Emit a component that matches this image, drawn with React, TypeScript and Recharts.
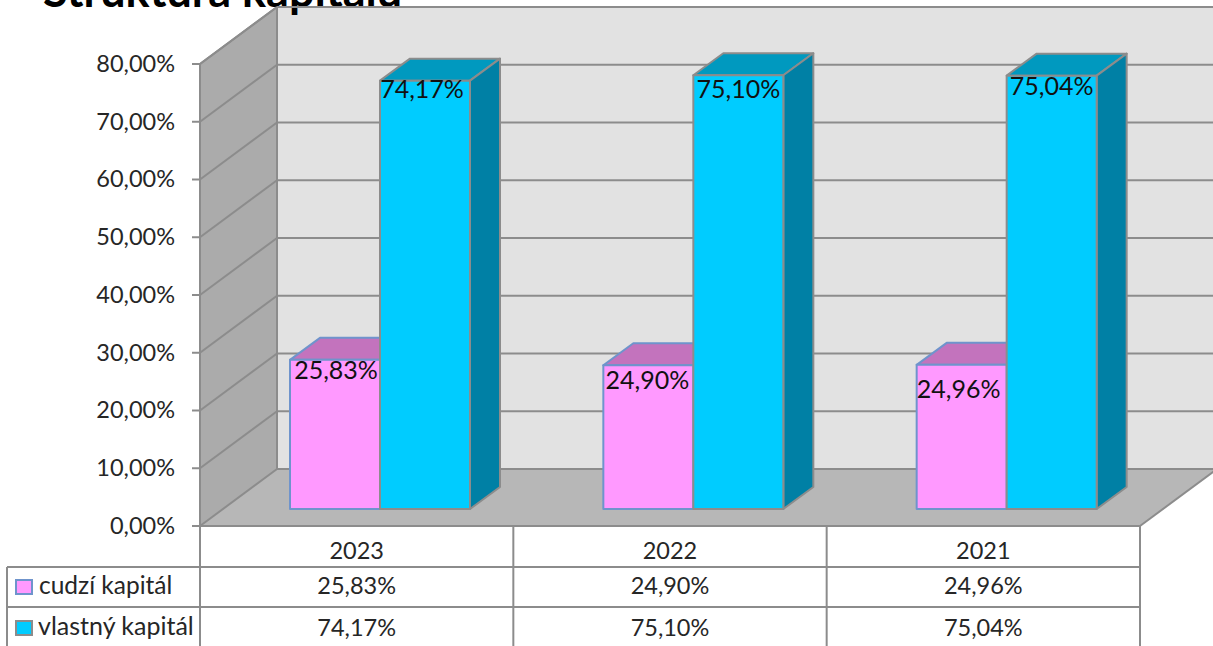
import { Bar, BarChart, CartesianGrid, LabelList, XAxis, YAxis } from 'recharts'

const title = 'Struktúra kapitálu'
const categories = ['2023', '2022', '2021']
const cudziKapital = [25.83, 24.9, 24.96]
const vlastnyKapital = [74.17, 75.1, 75.04]
const yTicks = [0, 10, 20, 30, 40, 50, 60, 70, 80]
const seriesNames = ['cudzí kapitál', 'vlastný kapitál']

const data = categories.map((year, i) => ({
  year,
  cudzi: cudziKapital[i],
  vlastny: vlastnyKapital[i],
}))

const W = 1213
const H = 646
const FONT = 'Lato, sans-serif'
const LINE = '#8c8c8c'
const TEXT = '#262626'

// front edge of the box, and how far the back wall is shifted from it
const FRONT_LEFT = 200
const FRONT_RIGHT = 1140
const FRONT_ZERO = 526
const FRONT_TOP = 64
const DX = 77
const DY = -57
// the bars stand a bit inside the box
const BAR_SHIFT_X = 23
const BAR_SHIFT_Y = -17
const BAR_DX = 30
const BAR_DY = -22

// hand-moved data labels, [dx, dy from the top of the bar]
const cudziLabelNudge = [[1, 13], [-1, 17], [-3, 27]]
const vlastnyLabelNudge = [[-3, 11], [0, 16], [0, 13]]

const pct = (v: number) => v.toFixed(2).replace('.', ',') + '%'

function Bar3D({ x, y, width, height, fill, topFill, sideFill, edge }: any) {
  const r = x + width
  const b = y + height
  return (
    <g stroke={edge} strokeWidth={2} strokeLinejoin="round">
      <polygon
        points={`${x},${y} ${x + BAR_DX},${y + BAR_DY} ${r + BAR_DX},${y + BAR_DY} ${r},${y}`}
        fill={topFill}
      />
      <polygon
        points={`${r},${y} ${r + BAR_DX},${y + BAR_DY} ${r + BAR_DX},${b + BAR_DY} ${r},${b}`}
        fill={sideFill}
      />
      <rect x={x} y={y} width={width} height={height} fill={fill} />
    </g>
  )
}

function BarLabel({ x, y, width, value, index, nudge }: any) {
  return (
    <text
      x={x + width / 2 + nudge[index][0]}
      y={y + nudge[index][1]}
      textAnchor="middle"
      dominantBaseline="middle"
      fontFamily={FONT}
      fontSize={25}
      fill="#111"
    >
      {pct(value)}
    </text>
  )
}

function GridLine(props: any) {
  // y comes from the value scale of the bars, move it to the front edge of the box
  const fy = props.y1 - BAR_SHIFT_Y
  const by = fy + DY
  return (
    <g stroke={LINE} strokeWidth={2} fill="none" key={props.key}>
      <line x1={FRONT_LEFT} y1={fy} x2={FRONT_LEFT + DX} y2={by} />
      <line x1={FRONT_LEFT + DX} y1={by} x2={W} y2={by} />
    </g>
  )
}

function YTick({ y, payload }: any) {
  const fy = y - BAR_SHIFT_Y
  return (
    <g>
      <line x1={FRONT_LEFT - 8} y1={fy} x2={FRONT_LEFT} y2={fy} stroke={LINE} strokeWidth={2} />
      <text x={175} y={fy + 2} textAnchor="end" dominantBaseline="middle" fontFamily={FONT} fontSize={23.5} fill={TEXT}>
        {pct(payload.value)}
      </text>
    </g>
  )
}

function TableColumn({ x, payload, index }: any) {
  const cx = x - BAR_SHIFT_X
  const i = index ?? payload.index
  const cell = { x: cx, textAnchor: 'middle', dominantBaseline: 'middle', fontFamily: FONT, fontSize: 23.5, fill: TEXT } as any
  return (
    <g>
      <text {...cell} y={553}>{payload.value}</text>
      <text {...cell} y={588}>{pct(cudziKapital[i])}</text>
      <text {...cell} y={630}>{pct(vlastnyKapital[i])}</text>
    </g>
  )
}

function Backdrop() {
  const l = FRONT_LEFT
  const r = FRONT_RIGHT
  const backTop = FRONT_TOP + DY
  const backZero = FRONT_ZERO + DY
  const colW = (r - l) / categories.length
  return (
    <svg width={W} height={H} style={{ position: 'absolute', left: 0, top: 0 }}>
      <rect width={W} height={H} fill="#fff" />
      <polygon points={`${l + DX},${backTop} ${W + 10},${backTop} ${W + 10},${backZero} ${l + DX},${backZero}`} fill="#e2e2e2" />
      <polygon points={`${l},${FRONT_TOP} ${l + DX},${backTop} ${l + DX},${backZero} ${l},${FRONT_ZERO}`} fill="#ababab" />
      <polygon points={`${l},${FRONT_ZERO} ${l + DX},${backZero} ${r + DX},${backZero} ${r},${FRONT_ZERO}`} fill="#b7b7b7" />
      <g stroke={LINE} strokeWidth={2} fill="none">
        <polyline points={`${l},${FRONT_ZERO} ${l},${FRONT_TOP} ${l + DX},${backTop} ${W},${backTop}`} />
        <line x1={l + DX} y1={backTop} x2={l + DX} y2={backZero} />
        <line x1={l} y1={FRONT_ZERO} x2={r} y2={FRONT_ZERO} />
        <line x1={r} y1={FRONT_ZERO} x2={r + DX} y2={backZero} />
        {/* data table */}
        <line x1={l} y1={FRONT_ZERO} x2={l} y2={H} />
        {categories.map((c, i) => (
          <line key={c} x1={l + colW * (i + 1)} y1={FRONT_ZERO} x2={l + colW * (i + 1)} y2={H} />
        ))}
        <line x1={7} y1={567} x2={r} y2={567} />
        <line x1={7} y1={607} x2={r} y2={607} />
        <line x1={7} y1={567} x2={7} y2={H} />
      </g>
      <rect x={16} y={580} width={16} height={14} fill="#ff99ff" stroke="#6f94cc" strokeWidth={2} />
      <rect x={16} y={621} width={16} height={14} fill="#00ccff" stroke={LINE} strokeWidth={2} />
      <text x={39} y={588} dominantBaseline="middle" fontFamily={FONT} fontSize={24.5} fill={TEXT}>{seriesNames[0]}</text>
      <text x={38} y={629} dominantBaseline="middle" fontFamily={FONT} fontSize={25} fill={TEXT}>{seriesNames[1]}</text>
      <text x={43} y={7} fontFamily={FONT} fontWeight={700} fontSize={45} fill="#000">{title}</text>
    </svg>
  )
}

export default function App() {
  return (
    <div style={{ position: 'absolute', left: 0, top: 0, width: W, height: H, overflow: 'hidden' }}>
      <Backdrop />
      <div style={{ position: 'absolute', left: 0, top: 0 }}>
        <BarChart
          width={W}
          height={H}
          data={data}
          margin={{ top: 47, right: 50, bottom: 136, left: 222 }}
          barSize={90}
          barGap={0}
        >
          <CartesianGrid vertical={false} horizontal={(p: any) => <GridLine {...p} />} />
          <XAxis dataKey="year" height={1} axisLine={false} tickLine={false} interval={0} tick={<TableColumn />} />
          <YAxis width={1} domain={[0, 80]} ticks={yTicks} axisLine={false} tickLine={false} interval={0} tick={<YTick />} />
          <Bar
            dataKey="cudzi"
            isAnimationActive={false}
            shape={(p: any) => <Bar3D {...p} fill="#ff99ff" topFill="#c373bd" sideFill="#a55ea0" edge="#6f94cc" />}
          >
            <LabelList dataKey="cudzi" content={(p: any) => <BarLabel {...p} nudge={cudziLabelNudge} />} />
          </Bar>
          <Bar
            dataKey="vlastny"
            isAnimationActive={false}
            shape={(p: any) => <Bar3D {...p} fill="#00ccff" topFill="#0099bf" sideFill="#0080a5" edge={LINE} />}
          >
            <LabelList dataKey="vlastny" content={(p: any) => <BarLabel {...p} nudge={vlastnyLabelNudge} />} />
          </Bar>
        </BarChart>
      </div>
    </div>
  )
}
